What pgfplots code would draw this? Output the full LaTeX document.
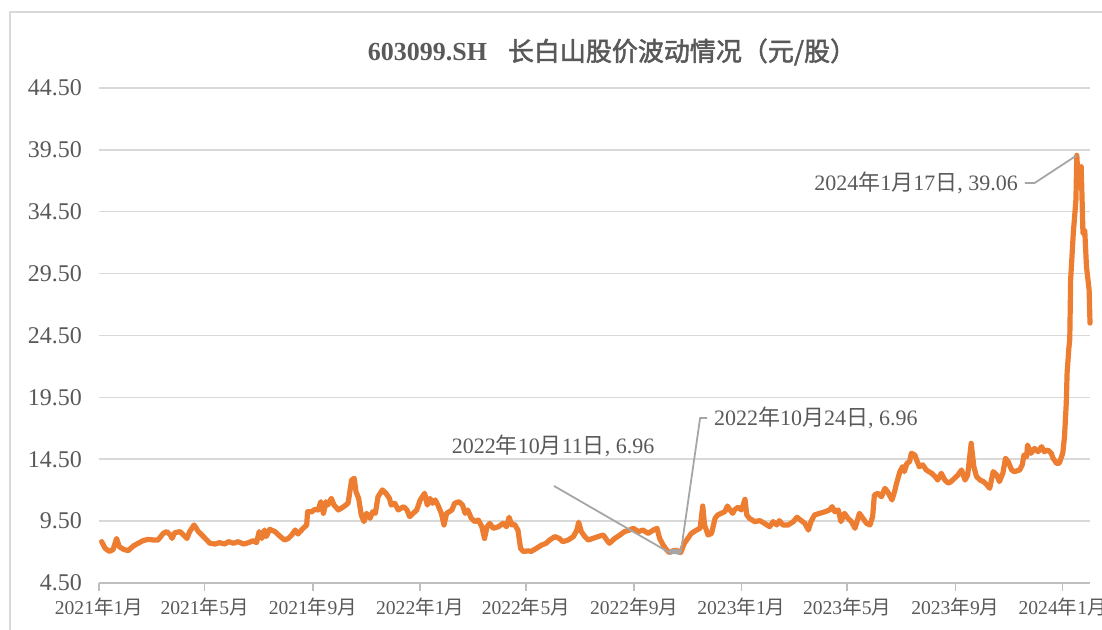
\documentclass[border=0pt]{standalone}
\usepackage{fontspec}
\setmainfont{Liberation Serif}
\newfontfamily\cjk{Noto Sans CJK SC}[AutoFakeBold=2]
\usepackage{pgfplots}
\pgfplotsset{compat=1.18}
\definecolor{lineor}{HTML}{ED7D31}
\definecolor{txt}{HTML}{595959}
\definecolor{gridc}{HTML}{D9D9D9}
\definecolor{axisc}{HTML}{BFBFBF}
\definecolor{lead}{HTML}{A6A6A6}
\newcommand{\cN}{{\cjk 年}}
\newcommand{\cY}{{\cjk 月}}
\newcommand{\cR}{{\cjk 日}}
\begin{document}
\begin{tikzpicture}
\begin{axis}[
  at={(0pt,0pt)}, anchor=south west,
  scale only axis, width=495.5pt, height=247.5pt,
  xmin=0, xmax=1126, ymin=4.5, ymax=44.5,
  axis x line*=bottom, axis y line*=left,
  x axis line style={draw=axisc, line width=0.75pt},
  y axis line style={draw=none},
  xtick={0,120,243,365,485,608,730,850,973,1095},
  xticklabels={2021\cN1\cY,2021\cN5\cY,2021\cN9\cY,2022\cN1\cY,2022\cN5\cY,2022\cN9\cY,2023\cN1\cY,2023\cN5\cY,2023\cN9\cY,2024\cN1\cY},
  ytick={4.5,9.5,14.5,19.5,24.5,29.5,34.5,39.5,44.5},
  yticklabels={4.50,9.50,14.50,19.50,24.50,29.50,34.50,39.50,44.50},
  ymajorgrids, grid style={gridc, line width=0.75pt},
  tick align=outside, major tick length=4pt,
  xtick style={draw=axisc, line width=0.75pt},
  ytick style={draw=none},
  tick label style={text=txt},
  xticklabel style={font=\fontsize{9.8}{11}\selectfont},
  yticklabel style={font=\fontsize{12}{14}\selectfont, xshift=-1pt},
  clip=false,
]
\addplot[lineor, line width=2.6pt, line join=round, line cap=round] table {
x y
3 7.84
7 7.30
12 7.05
16 7.20
20 8.10
23 7.43
28 7.22
33 7.11
39 7.49
43 7.65
50 7.92
56 8.03
62 7.97
67 7.97
73 8.51
77 8.65
81 8.38
83 8.10
86 8.56
92 8.65
96 8.38
100 8.10
103 8.65
108 9.19
113 8.65
118 8.30
126 7.71
132 7.65
137 7.76
143 7.65
147 7.84
153 7.71
158 7.84
164 7.65
170 7.76
175 7.92
179 7.76
182 8.65
185 8.10
188 8.78
190 8.25
194 8.84
200 8.65
206 8.25
211 7.97
215 8.10
219 8.38
223 8.78
226 8.46
232 8.92
236 9.19
237 10.26
242 10.26
245 10.45
249 10.40
252 11.07
255 10.13
258 11.07
260 10.80
264 11.34
267 10.80
272 10.40
278 10.67
283 10.94
287 12.82
290 12.96
292 11.88
295 11.34
298 10.00
301 9.46
304 10.13
308 9.73
311 10.26
314 10.13
317 11.47
322 12.02
326 11.75
330 11.34
332 10.80
336 10.94
340 10.40
346 10.67
350 10.40
353 9.86
357 10.13
361 10.40
365 11.21
370 11.75
373 10.80
376 11.34
379 10.94
382 11.21
385 10.80
389 10.13
392 9.19
395 10.13
401 10.40
404 10.94
409 11.07
413 10.80
416 10.13
419 10.40
423 9.73
427 9.46
431 9.59
435 9.05
438 8.10
441 9.05
444 9.32
448 8.92
454 9.05
459 9.32
463 9.05
466 9.81
469 9.19
472 9.25
476 8.78
479 7.30
482 7.05
488 7.10
491 7.05
497 7.30
503 7.57
508 7.71
512 7.97
518 8.25
523 8.10
527 7.84
533 7.97
539 8.25
543 8.78
545 9.41
548 8.65
552 8.25
556 7.97
561 8.10
567 8.25
573 8.38
577 7.97
580 7.71
586 8.10
592 8.38
597 8.65
603 8.78
607 8.92
613 8.65
618 8.78
624 8.51
630 8.78
634 8.92
637 8.10
641 7.57
645 7.17
648 6.96
652 7.10
656 7.15
658 7.05
661 6.96
665 7.70
669 8.10
673 8.51
679 8.78
683 8.92
686 10.72
688 9.19
692 8.38
696 8.51
700 9.73
703 10.00
707 10.13
711 10.26
714 10.72
717 10.40
720 10.13
722 10.40
726 10.62
730 10.40
734 11.26
736 10.00
739 9.73
745 9.46
751 9.54
756 9.32
762 9.05
766 9.46
770 9.19
773 9.54
777 9.19
783 9.19
789 9.46
793 9.81
797 9.59
802 9.32
806 8.78
809 9.46
813 10.00
819 10.13
825 10.26
830 10.40
833 10.67
836 10.26
840 10.40
843 9.46
847 10.13
851 9.73
855 9.46
859 8.92
864 10.13
868 9.73
872 9.32
876 9.19
879 9.86
881 11.61
885 11.75
889 11.47
893 12.15
896 11.88
901 11.21
904 11.90
906 12.50
908 13.00
910 13.50
913 13.90
915 13.50
918 14.17
921 14.31
923 14.98
927 14.84
929 14.44
932 13.90
936 14.04
940 13.63
946 13.37
950 13.10
953 12.82
957 13.37
961 12.82
965 12.56
968 12.69
972 12.96
976 13.23
980 13.63
984 12.82
987 13.23
991 15.79
994 13.90
997 13.10
1001 12.82
1005 12.69
1009 12.42
1012 12.15
1016 13.50
1020 13.23
1023 12.69
1027 13.37
1030 14.58
1033 14.31
1037 13.63
1040 13.50
1046 13.63
1049 14.04
1051 14.84
1054 14.71
1055 15.65
1059 14.98
1063 15.38
1067 15.11
1071 15.52
1074 15.11
1078 15.25
1082 14.98
1084 14.58
1088 14.17
1091 14.17
1095 14.98
1097 16.30
1099 19.00
1100 21.50
1102 23.50
1103 24.20
1104 29.00
1107 32.75
1110 35.45
1111 39.06
1113 36.52
1116 38.14
1118 32.75
1120 33.00
1122 30.06
1125 28.18
1126 25.50
};
\addplot[lead, line width=2.6pt, line join=round] coordinates {(648,6.96)(652,7.05)(656,7.05)(658,7.0)(661,6.96)};
\draw[lead, line width=0.9pt] (axis cs:1052,36.82) -- (axis cs:1063,36.82) -- (axis cs:1111,39.06);
\node[anchor=east, text=txt, font=\fontsize{11}{13}\selectfont] at (axis cs:1052,36.82) {2024\cN1\cY17\cR, 39.06};
\draw[lead, line width=0.9pt] (axis cs:517,12.34) -- (axis cs:648,6.96);
\node[text=txt, font=\fontsize{11}{13}\selectfont] at (axis cs:516,15.57) {2022\cN10\cY11\cR, 6.96};
\draw[lead, line width=0.9pt] (axis cs:661,6.96) -- (axis cs:683,17.83) -- (axis cs:691,17.83);
\node[anchor=west, text=txt, font=\fontsize{11}{13}\selectfont] at (axis cs:691,17.83) {2022\cN10\cY24\cR, 6.96};
\end{axis}
\node[text=txt, font=\fontsize{13}{15}\selectfont\bfseries] at (256.5pt,265.5pt) {603099.SH\hspace{0.8em}{\cjk 长白山股价波动情况（元/股）}};
\draw[gridc, line width=0.75pt] (-44.5pt,-40pt) -- (-44.5pt,285.5pt) -- (520pt,285.5pt);
\pgfresetboundingbox
\useasboundingbox (-49.5pt,-23.5pt) rectangle (501.5pt,291.5pt);
\end{tikzpicture}
\end{document}
